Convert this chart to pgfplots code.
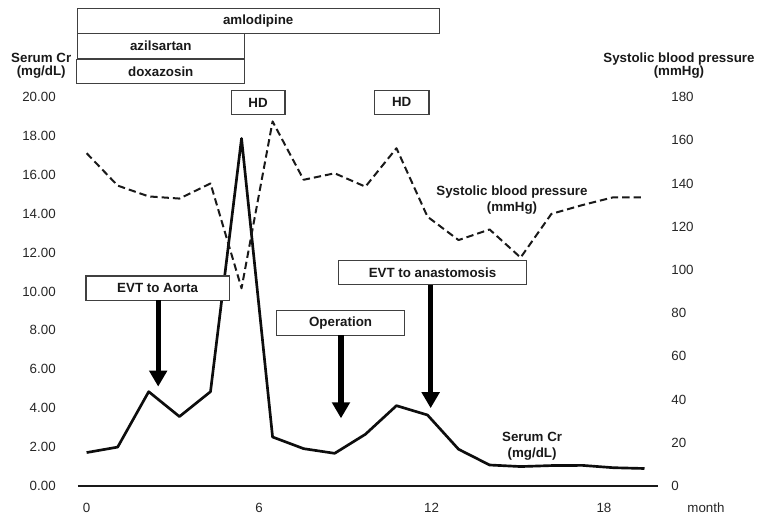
\documentclass[border=0pt]{standalone}
\usepackage{pgfplots}
\pgfplotsset{compat=1.18}
\usepackage{pgfplotstable}
\usepackage{fontspec}
\setmainfont{Liberation Sans}
\usetikzlibrary{arrows.meta}

\pgfplotstableread{
x cr sbp
0.00 1.72 154.0
1.08 2.00 139.0
2.16 4.85 134.0
3.23 3.57 133.0
4.31 4.85 140.0
5.39 17.87 91.5
6.47 2.52 168.7
7.55 1.92 141.7
8.63 1.68 144.7
9.70 2.66 138.5
10.78 4.13 156.3
11.86 3.65 124.6
12.94 1.89 113.8
14.02 1.08 118.7
15.10 1.00 105.7
16.17 1.05 125.9
17.25 1.06 130.0
18.33 0.94 133.6
19.41 0.90 133.6
}\datatable

\pgfplotsset{
  common/.style={
    at={(0,0)}, anchor=south west, scale only axis,
    width=435pt, height=291.75pt,
    xmin=-0.30, xmax=19.88, clip=false,
    major tick length=0pt, tick style={draw=none},
    tick label style={font=\fontsize{10}{12}\selectfont, text=black!85},
    /pgf/number format/assume math mode=true,
  },
}
\tikzset{
  box/.style={draw=black!75, line width=0.9pt, fill=white},
  lab/.style={font=\bfseries\fontsize{10}{12}\selectfont, text=black!90},
  arr/.style={line width=4pt, -{Triangle[width=13pt,length=12pt]}},
}

\begin{document}
\begin{tikzpicture}
\path[use as bounding box] (-58.5pt,-26.25pt) rectangle (510.75pt,364.5pt);

\begin{axis}[common,
  ymin=0, ymax=20,
  axis x line=bottom, axis y line=left,
  x axis line style={-, line width=2pt, black!90},
  y axis line style={draw=none},
  xtick={0,6,12,18},
  xticklabel style={yshift=-9.4pt},
  ytick={0,2,...,20},
  yticklabel style={xshift=-13.2pt, /pgf/number format/fixed, /pgf/number format/fixed zerofill, /pgf/number format/precision=2},
]
\addplot[line width=2pt, black!95, line join=round, mark=none] table[x=x, y=cr] {\datatable};

% top medication boxes
\draw[box] (axis cs:-0.32,23.28) rectangle (axis cs:12.27,24.56);
\node[lab] at (axis cs:5.97,23.92) {amlodipine};
\draw[box] (axis cs:-0.32,21.99) rectangle (axis cs:5.48,23.28);
\node[lab] at (axis cs:2.58,22.63) {azilsartan};
\draw[box] (axis cs:-0.35,20.70) rectangle (axis cs:5.48,21.94);
\node[lab] at (axis cs:2.58,21.32) {doxazosin};

% HD boxes
\draw[box] (axis cs:5.03,19.09) rectangle (axis cs:6.90,20.34);
\node[lab] at (axis cs:5.965,19.72) {HD};
\draw[box] (axis cs:10.01,19.12) rectangle (axis cs:11.91,20.34);
\node[lab] at (axis cs:10.96,19.73) {HD};

% events
\draw[box] (axis cs:-0.02,9.54) rectangle (axis cs:4.96,10.80);
\node[lab] at (axis cs:2.47,10.17) {EVT to Aorta};
\draw[arr] (axis cs:2.49,9.54) -- (axis cs:2.49,5.11);

\draw[box] (axis cs:6.62,7.74) rectangle (axis cs:11.05,9.02);
\node[lab] at (axis cs:8.835,8.38) {Operation};
\draw[arr] (axis cs:8.85,7.74) -- (axis cs:8.85,3.48);

\draw[box] (axis cs:8.76,10.34) rectangle (axis cs:15.31,11.60);
\node[lab] at (axis cs:12.035,10.97) {EVT to anastomosis};
\draw[arr] (axis cs:11.97,10.34) -- (axis cs:11.97,4.00);

% series labels
\node[lab, align=center] at (axis cs:14.8,14.7) {Systolic blood pressure\\(mmHg)};
\node[lab, align=center] at (axis cs:15.5,2.06) {Serum Cr\\(mg/dL)};

% axis titles
\node[lab, align=center, font=\bfseries\fontsize{10}{9.75}\selectfont] at (axis cs:-1.58,21.62) {Serum Cr\\(mg/dL)};
\node[lab, align=center, font=\bfseries\fontsize{10}{9.75}\selectfont] at (axis cs:20.61,21.62) {Systolic blood pressure\\(mmHg)};
\node[anchor=north, inner sep=0pt, font=\fontsize{10}{12}\selectfont, text=black!85, yshift=-12.75pt] at (axis cs:21.55,0) {month};
\end{axis}

\begin{axis}[common,
  ymin=0, ymax=180,
  axis x line=none, axis y line=right,
  y axis line style={draw=none},
  ytick={0,20,...,180},
  yticklabel style={xshift=6.5pt},
]
\addplot[line width=1.5pt, black!90, line join=round, dash pattern=on 5.5pt off 3pt, mark=none] table[x=x, y=sbp] {\datatable};
\end{axis}
\end{tikzpicture}
\end{document}
